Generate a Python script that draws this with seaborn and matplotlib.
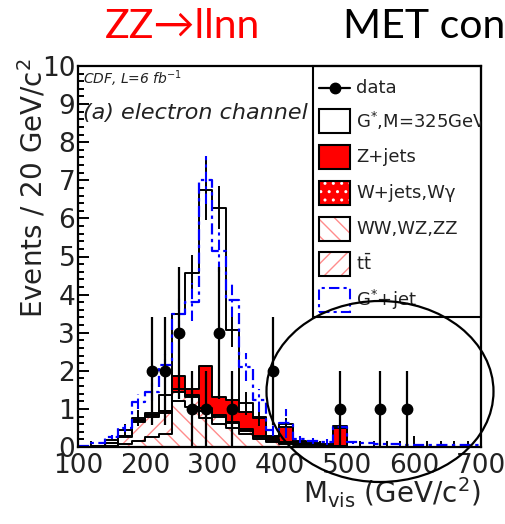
import numpy as np
import matplotlib
matplotlib.use("Agg")
import matplotlib.pyplot as plt
from matplotlib.patches import Rectangle, Ellipse
from matplotlib.lines import Line2D
import seaborn as sns

# ---- binning (20 GeV bins) ----
bin_edges = list(range(100, 701, 20))
bin_centers = np.array(bin_edges[:-1]) + 10

# ---- expected backgrounds, events per bin ----
diboson = [0, 0, 0.03, 0.08, 0.15, 0.25, 0.35, 1.20, 1.05, 0.75, 0.60, 0.50, 0.33, 0.20, 0.12,
           0.07, 0.06, 0.05, 0.03, 0.02, 0.01, 0, 0, 0, 0, 0, 0, 0, 0, 0]
ttbar = [0, 0.02, 0.07, 0.17, 0.50, 0.55, 0.55, 0.25, 0.25, 0.20, 0.20, 0.12, 0.10, 0.05, 0.05,
         0.03, 0.03, 0.02, 0.02, 0.01, 0, 0, 0, 0, 0, 0, 0, 0, 0, 0]
wjets = [0, 0, 0, 0.05, 0.05, 0.05, 0.05, 0.07, 0.06, 0.07, 0.04, 0.04, 0.03, 0.03, 0.03,
         0.02, 0, 0, 0, 0, 0, 0, 0, 0, 0, 0, 0, 0, 0, 0]
zjets = [0, 0, 0, 0, 0, 0, 0, 0.34, 0.15, 1.11, 0.48, 0.57, 0.47, 0.48, 0.05,
         0.41, 0.03, 0, 0, 0.47, 0, 0, 0, 0, 0, 0, 0, 0, 0, 0]
# ---- signal G*, M=325 GeV (stacked on top) ----
gstar = [0, 0, 0.08, 0.15, 0.06, 0.05, 0.41, 1.64, 3.06, 4.62, 4.96, 1.84, 0.22, 0.04, 0.05,
         0.07, 0.03, 0.03, 0.02, 0.05, 0, 0, 0, 0, 0, 0, 0, 0, 0, 0]
stack_err = [0, 0, 0, 0.15, 0.20, 0.20, 0.35, 0.50, 0.47, 0.79, 0.57, 0.45, 0.30, 0.25, 0.10,
             0.15, 0, 0, 0, 0, 0, 0, 0, 0, 0, 0, 0, 0, 0, 0]
# ---- G*+jet (overlaid) ----
gstar_jet = [0.03, 0.10, 0.27, 0.49, 1.19, 1.45, 2.15, 3.50, 3.81, 7.00, 5.15, 3.85, 2.10, 1.23, 0.45,
             0.62, 0.20, 0.15, 0.12, 0.53, 0.12, 0.10, 0.08, 0.08, 0.06, 0.06, 0.05, 0.05, 0.05, 0.05]
gstar_jet_err = [0, 0, 0.05, 0.10, 0.20, 0.25, 0.30, 0.45, 0.50, 0.63, 0.55, 0.45, 0.36, 0.30, 0.15,
                 0.38, 0.10, 0.08, 0.08, 0.20, 0.05, 0, 0, 0, 0, 0, 0, 0, 0, 0]

# ---- observed data ----
data_mass = [210, 230, 250, 270, 290, 310, 330, 390, 490, 550, 590]
data_counts = [2, 2, 3, 1, 1, 3, 1, 2, 1, 1, 1]

legend_labels = ["data", r"G$^{*}$,M=325GeV", "Z+jets", "W+jets,W\u03b3", "WW,WZ,ZZ",
                 r"t$\bar{\mathregular{t}}$", r"G$^{*}$+jet"]

# ---------------------------------------------------------------
sns.set_style("ticks")
plt.rcParams.update({
    "font.family": ["DejaVu Sans"],
    "mathtext.fontset": "dejavusans",
    "hatch.linewidth": 1.0,
    "axes.linewidth": 1.6,
    "axes.edgecolor": "black",
})

W, H = 506, 524
fig = plt.figure(figsize=(W / 100, H / 100), dpi=100)
AX_L, AX_R, AX_T, AX_B = 78, 481, 66, 447
ax = fig.add_axes([AX_L / W, 1 - AX_B / H, (AX_R - AX_L) / W, (AX_B - AX_T) / H])


def axfrac(px, py):
    return (px - AX_L) / (AX_R - AX_L), (AX_B - py) / (AX_B - AX_T)


pink = "#ff8c8c"
c_sig = np.array(diboson)
c_tt = c_sig + np.array(ttbar)
c_wj = c_tt + np.array(wjets)
c_zj = c_wj + np.array(zjets)
c_all = c_zj + np.array(gstar)


def filled(values, face, edge="black", lw=1.4, hatch=None):
    sns.histplot(x=bin_centers, weights=values, bins=bin_edges, element="step", fill=True,
                 facecolor=face, edgecolor=edge, linewidth=lw, hatch=hatch, alpha=1, ax=ax)


def outline(values, color="black", lw=1.4, ls="-"):
    sns.histplot(x=bin_centers, weights=values, bins=bin_edges, element="step", fill=False,
                 color=color, linewidth=lw, linestyle=ls, ax=ax)


# stacked histograms, drawn from the top of the stack downwards
filled(c_all, "white")
filled(c_zj, "#ff0000")
filled(c_wj, "#ff0000", edge="white", lw=0, hatch="..")
outline(c_wj)
filled(c_tt, "white", edge=pink, lw=0, hatch="//")
outline(c_tt)
filled(c_sig, "white", edge=pink, lw=0, hatch="\\\\")
outline(c_sig)

# stack uncertainty
se = np.array(stack_err)
m = se > 0
ax.errorbar(bin_centers[m], c_all[m], yerr=se[m], fmt="none", ecolor="black", elinewidth=1.4, zorder=4)

# G*+jet overlay
dashdot = (0, (5, 2, 1.5, 2))
outline(gstar_jet, color="#0000ff", lw=1.6, ls=dashdot)
ge = np.array(gstar_jet_err)
m = ge > 0
eb = ax.errorbar(bin_centers[m], np.array(gstar_jet)[m], yerr=ge[m], fmt="none",
                 ecolor="#0000ff", elinewidth=1.5, zorder=4)
eb[2][0].set_linestyle(dashdot)

# data with Poisson errors
dc = np.array(data_counts, dtype=float)
ax.errorbar(data_mass, dc, yerr=np.sqrt(dc), fmt="o", color="black", ms=7.5,
            elinewidth=1.6, capsize=0, zorder=10)

# ---- axes ----
ax.set_xlim(100, 700)
ax.set_ylim(0, 10)
ax.set_xticks(range(100, 701, 100))
ax.set_xticks(range(100, 701, 20), minor=True)
ax.set_yticks(range(0, 11))
ax.set_yticks(np.arange(0, 10.01, 0.2), minor=True)
ax.tick_params(which="both", direction="in", top=False, right=False, width=1.4, colors="black")
ax.tick_params(which="major", length=8, labelsize=19, labelcolor="#222222")
ax.tick_params(axis="x", which="major", pad=4)
ax.tick_params(axis="y", which="major", pad=2)
ax.tick_params(which="minor", length=4)
for s in ax.spines.values():
    s.set_linewidth(1.6)
    s.set_zorder(12)

ax.set_xlabel(r"M$_{\mathregular{vis}}$ (GeV/c$^{2}$)", fontsize=20, color="#222222")
ax.xaxis.set_label_coords(1.0, axfrac(0, 493)[1])
ax.xaxis.label.set_ha("right")
ax.xaxis.label.set_va("center")
ax.set_ylabel(r"Events / 20 GeV/c$^{2}$", fontsize=20, color="#222222")
ax.yaxis.set_label_coords(axfrac(33, 0)[0], axfrac(0, 58)[1])
ax.yaxis.label.set_ha("right")
ax.yaxis.label.set_va("center")

x0, y0 = axfrac(83, 79)
ax.text(x0, y0, r"CDF, L=6 fb$^{-1}$", transform=ax.transAxes, fontsize=10, style="italic",
        va="center", ha="left", color="#222222")
x0, y0 = axfrac(83, 113)
ax.text(x0, y0, "(a) electron channel", transform=ax.transAxes, fontsize=16, style="italic",
        va="center", ha="left", color="#222222")

# ---- legend panel ----
lx, ly = axfrac(313, 317)
ax.add_patch(Rectangle((lx, ly), 1 - lx, 1 - ly, transform=ax.transAxes, facecolor="white",
                       edgecolor="black", lw=1.5, zorder=11, clip_on=False))
rows_y = [88, 121, 157, 193, 229, 264, 300]
bx0, _ = axfrac(319, 0)
bx1, _ = axfrac(350, 0)
tx, _ = axfrac(356, 0)
bh = 24 / (AX_B - AX_T)
styles = [
    None,
    dict(facecolor="white", edgecolor="black"),
    dict(facecolor="#ff0000", edgecolor="black"),
    dict(facecolor="#ff0000", edgecolor="white", hatch="..", lw=0),
    dict(facecolor="white", edgecolor=pink, hatch="\\\\", lw=0),
    dict(facecolor="white", edgecolor=pink, hatch="//", lw=0),
    dict(facecolor="none", edgecolor="#0000ff", ls=dashdot),
]
for label, py, st in zip(legend_labels, rows_y, styles):
    _, yc = axfrac(0, py)
    if st is None:
        ax.add_line(Line2D([bx0, bx1], [yc, yc], transform=ax.transAxes, color="black", lw=1.6,
                           zorder=13, clip_on=False))
        ax.add_line(Line2D([(bx0 + bx1) / 2], [yc], transform=ax.transAxes, color="black",
                           marker="o", ms=7.5, zorder=13, clip_on=False))
    else:
        kw = dict(lw=1.5)
        kw.update(st)
        ax.add_patch(Rectangle((bx0, yc - bh / 2), bx1 - bx0, bh, transform=ax.transAxes,
                               zorder=13, clip_on=False, **kw))
        if st.get("hatch"):
            ax.add_patch(Rectangle((bx0, yc - bh / 2), bx1 - bx0, bh, transform=ax.transAxes,
                                   facecolor="none", edgecolor="black", lw=1.5, zorder=13,
                                   clip_on=False))
    ax.text(tx, yc, label, transform=ax.transAxes, fontsize=13, va="center", ha="left",
            color="#222222", zorder=14, clip_on=True)

# ---- slide heading and highlight ----
fig.text(105 / W, 1 - 27 / H, "ZZ\u2192llnn", color="#ff0000", fontsize=29.5,
         family=["Lato", "DejaVu Sans"], ha="left", va="center")
fig.text(343 / W, 1 - 27 / H, "MET con", color="black", fontsize=29.5,
         family=["Lato", "DejaVu Sans"], ha="left", va="center")
fig.add_artist(Ellipse((380 / W, 1 - 391.5 / H), 227 / W, 181 / H, transform=fig.transFigure,
                       fill=False, edgecolor="black", lw=1.6, zorder=20))

fig.savefig("out.png", dpi=100)
